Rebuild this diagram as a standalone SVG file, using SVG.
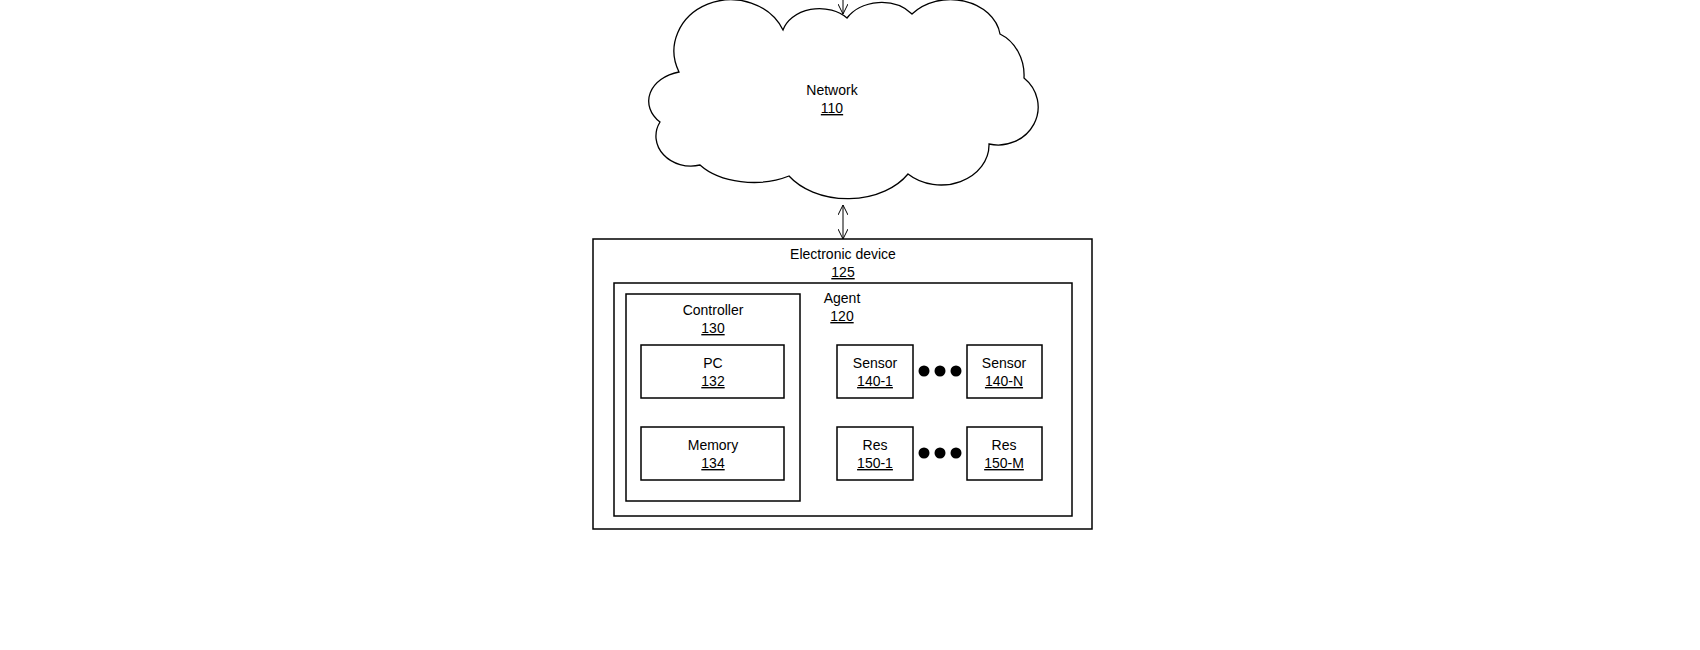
<svg xmlns="http://www.w3.org/2000/svg" width="1700" height="650" viewBox="0 0 1700 650">
<defs>
<marker id="ah" viewBox="0 0 10 10" refX="10" refY="5" markerWidth="10" markerHeight="10" markerUnits="userSpaceOnUse" orient="auto-start-reverse"><path d="M0,0 L10,5 L0,10" fill="none" stroke="#000" stroke-width="1"/></marker>
</defs>
<style>
text{font-family:"Liberation Sans",Arial,sans-serif;font-size:14px;text-anchor:middle;fill:#000}
.u{text-decoration:underline}
rect{fill:none;stroke:#000;stroke-width:1.5}
.c{fill:#fff;stroke:#000;stroke-width:1.3}
line{stroke:#000;stroke-width:1}
</style>
<rect x="0" y="0" width="1700" height="650" style="fill:#fff;stroke:none"/>
<g id="connectors">
<line x1="843" y1="0" x2="843" y2="14" marker-end="url(#ah)"/>
<line x1="843" y1="205" x2="843" y2="239" marker-start="url(#ah)" marker-end="url(#ah)"/>
</g>
<g id="network">
<path class="c" d="M679,72 A50 45 0 0 1 783,30 A38 30 0 0 1 847,18 A40 32 0 0 1 912,14 A50 40 0 0 1 1000,34 A40 45 0 0 1 1024,78 A40 38 0 0 1 989,144 A48 40 0 0 1 908,174 A70 50 0 0 1 789,176 A65 40 0 0 1 700,165 A35 30 0 0 1 660,122 A40 30 0 0 1 679,72 Z"/>
<text x="832" y="95">Network</text><text x="832" y="113" class="u">110</text>
</g>
<g id="device"><rect x="593" y="239" width="499" height="290"/>
<text x="843" y="259">Electronic device</text><text x="843" y="277" class="u">125</text></g>
<g id="agent"><rect x="614" y="283" width="458" height="233"/>
<text x="842" y="303">Agent</text><text x="842" y="321" class="u">120</text></g>
<g id="controller"><rect x="626" y="294" width="174" height="207"/>
<text x="713" y="315">Controller</text><text x="713" y="333" class="u">130</text></g>
<g id="pc"><rect x="641" y="345" width="143" height="53"/>
<text x="713" y="368">PC</text><text x="713" y="386" class="u">132</text></g>
<g id="memory"><rect x="641" y="427" width="143" height="53"/>
<text x="713" y="450">Memory</text><text x="713" y="468" class="u">134</text></g>
<g id="sensor1"><rect x="837" y="345" width="76" height="53"/>
<text x="875" y="368">Sensor</text><text x="875" y="386" class="u">140-1</text></g>
<g id="sensorN"><rect x="967" y="345" width="75" height="53"/>
<text x="1004" y="368">Sensor</text><text x="1004" y="386" class="u">140-N</text></g>
<g id="res1"><rect x="837" y="427" width="76" height="53"/>
<text x="875" y="450">Res</text><text x="875" y="468" class="u">150-1</text></g>
<g id="resM"><rect x="967" y="427" width="75" height="53"/>
<text x="1004" y="450">Res</text><text x="1004" y="468" class="u">150-M</text></g>
<g id="dots">
<circle cx="924" cy="371" r="5.5"/><circle cx="940" cy="371" r="5.5"/><circle cx="956" cy="371" r="5.5"/>
<circle cx="924" cy="453" r="5.5"/><circle cx="940" cy="453" r="5.5"/><circle cx="956" cy="453" r="5.5"/>
</g>
</svg>
